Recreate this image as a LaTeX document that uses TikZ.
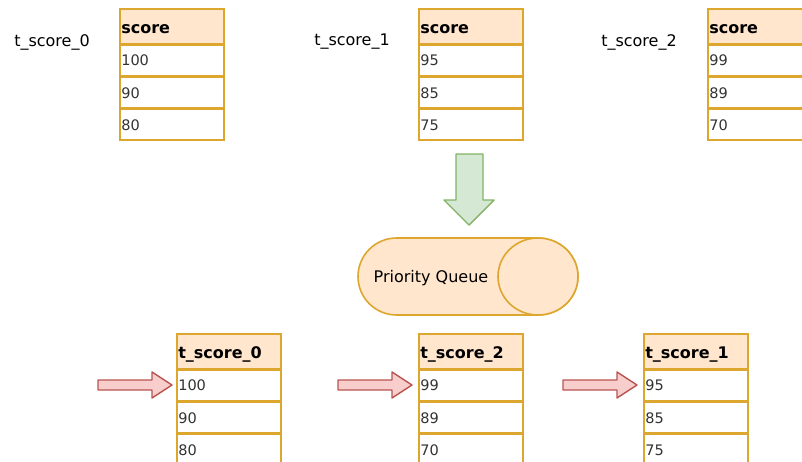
\documentclass[tikz,border=0pt]{standalone}
\usepackage{fontspec}
\setmainfont{DejaVu Sans}
\usepackage{xcolor}
\definecolor{ordraw}{HTML}{DDA62E}
\definecolor{orfill}{HTML}{FFE6CC}
\definecolor{grfill}{HTML}{D5E8D4}
\definecolor{grdraw}{HTML}{82B366}
\definecolor{rdfill}{HTML}{F8CECC}
\definecolor{rddraw}{HTML}{B85450}
\definecolor{txtgray}{HTML}{333333}
\newcommand{\scoretable}[7]{%
  \node[headbox] (#1h) at (#2,#3) {#4};
  \node[cellbox] (#1a) at (#1h.south west) {#5};
  \node[cellbox] (#1b) at (#1a.south west) {#6};
  \node[cellbox] (#1c) at (#1b.south west) {#7};
}
\tikzset{
  cellbox/.style={draw=ordraw, line width=1.6pt, fill=white, minimum height=30.5pt,
    text width=101pt, inner xsep=1.5pt, inner ysep=0pt, align=left, anchor=north west,
    font=\fontsize{14.5}{16}\selectfont, text=txtgray},
  headbox/.style={cellbox, fill=orfill, minimum height=35pt,
    text height=15pt, text depth=0pt,
    font=\bfseries\fontsize{16}{18}\selectfont, text=black},
  lbl/.style={font=\fontsize{16}{18}\selectfont, text=black, inner sep=0pt},
  greenarrow/.style={draw=grdraw, fill=grfill, line width=1.4pt, line join=round},
  redarrow/.style={draw=rddraw, fill=rdfill, line width=1.4pt, line join=round},
  queue/.style={draw=ordraw, fill=orfill, line width=1.6pt},
}
\begin{document}
\begin{tikzpicture}[x=1pt,y=-1pt]
\useasboundingbox (0,0) rectangle (802,461);
\clip (0,0) rectangle (802,461);
% top labels
\node[lbl] (l0) at (52,42) {t\_score\_0};
\node[lbl] (l1) at (352,42) {t\_score\_1};
\node[lbl] (l2) at (639,42) {t\_score\_2};
% top tables
\scoretable{ta}{119}{8}{score}{100}{90}{80}
\scoretable{tb}{418}{8}{score}{95}{85}{75}
\scoretable{tc}{707}{8}{score}{99}{89}{70}
% green block arrow
\draw[greenarrow] (456,154) -- (483,154) -- (483,200) -- (494,200) -- (469,225)
  -- (444,200) -- (456,200) -- cycle;
% priority queue (horizontal cylinder)
\draw[queue] (396.5,238) -- (538,238)
  arc[start angle=-90, end angle=90, x radius=40, y radius=38.5]
  -- (396.5,315) arc[start angle=90, end angle=270, radius=38.5] -- cycle;
\draw[queue] (538,276.5) ellipse [x radius=40, y radius=38.5];
\node[lbl] (pq) at (431,278) {Priority Queue};
% bottom tables
\scoretable{ba}{176}{333}{t\_score\_0}{100}{90}{80}
\scoretable{bb}{418}{333}{t\_score\_2}{99}{89}{70}
\scoretable{bc}{643}{333}{t\_score\_1}{95}{85}{75}
% red block arrows
\draw[redarrow] (98,380) -- (152,380) -- (152,372) -- (172,385) -- (152,398)
  -- (152,390) -- (98,390) -- cycle;
\draw[redarrow] (338,380) -- (392,380) -- (392,372) -- (412,385) -- (392,398)
  -- (392,390) -- (338,390) -- cycle;
\draw[redarrow] (563,380) -- (617,380) -- (617,372) -- (637,385) -- (617,398)
  -- (617,390) -- (563,390) -- cycle;
\end{tikzpicture}
\end{document}
